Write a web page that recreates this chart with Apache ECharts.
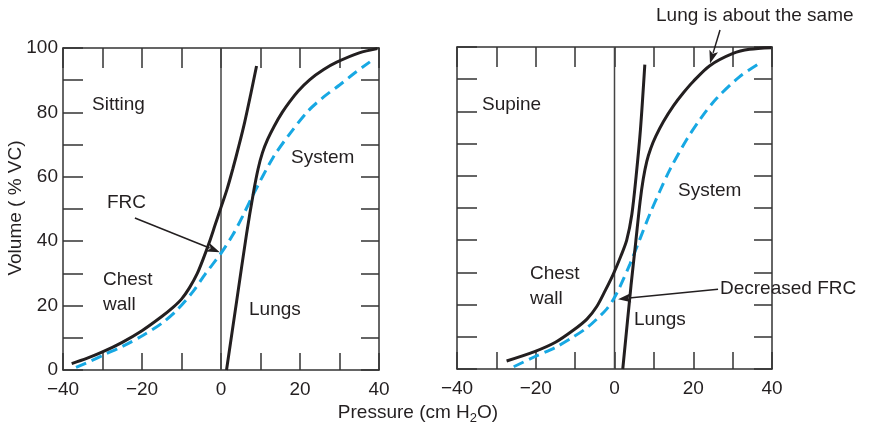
<!DOCTYPE html>
<html><head><meta charset="utf-8">
<script src="https://cdn.jsdelivr.net/npm/echarts@6/dist/echarts.min.js"></script>
<style>html,body{margin:0;padding:0;background:#fff}#c{width:873px;height:426px}</style>
</head><body><div id="c"></div>
<script>
// ---- data (pressure cm H2O, volume % VC) ----
const xLabelTicks = [-40, -20, 0, 20, 40];
const yLabelTicks = [0, 20, 40, 60, 80, 100];
const zeroLine = [[0, 0], [0, 100]];

const sittingChestWall = [[-37.8,2.0],[-34,3.6],[-30,5.6],[-25,8.6],[-20,12.2],[-15,16.6],[-12,19.6],[-10,22],[-8,25.5],[-6,30],[-4.5,34.5],[-3,39.5],[-1.5,45],[0,50.5],[1.5,56],[3,62.5],[4.5,69.5],[6,77],[7.5,85.5],[9,94.4]];
const sittingLungs = [[1.4,0],[4,21.7],[6.5,42.5],[8.2,55],[9.4,62.5],[10.5,67.5],[11.8,71.6],[13.5,75.8],[15.5,80],[17.5,83.5],[19.5,86.6],[22.5,90.2],[26,93.3],[29.3,95.6],[35,98.5],[39.6,99.8]];
const sittingSystem = [[-36.7,0.8],[-33,2.8],[-29.5,4.8],[-25,7.3],[-19.7,10.8],[-15,14.5],[-11,18.8],[-7,24.5],[-4,29.8],[-1.5,33.8],[0.2,36.6],[3,42],[5.5,47.8],[8.2,54.6],[13.2,66],[17.5,73.5],[22.1,80.5],[26,84.8],[30.1,88.6],[34,92.4],[37.7,95.7]];

const supineChestWall = [[-27.4,2.5],[-20.3,5.4],[-15,8.3],[-10.4,12.1],[-7,15.5],[-4.5,19.4],[-2.3,24.5],[-0.3,29.5],[1.6,35],[3.1,40],[4.4,48],[5.5,60],[6.6,74.5],[7.7,94.5]];
const supineLungs = [[2.1,0],[4.2,26],[5.4,39.5],[6.5,52],[7.3,59],[8.2,64.5],[9.2,68.5],[10.5,72.3],[12.4,76.8],[15,81.8],[17.5,85.8],[20,89.3],[24.2,94.2],[30.1,98],[34.3,99.3],[39.8,99.8]];
const supineSystem = [[-25.6,0.7],[-20.3,3.8],[-15,6.7],[-10.4,10],[-7,12.8],[-4.5,15.5],[-2,18.6],[-0.3,21.6],[1.4,25.6],[3.9,32.5],[6.5,40.5],[9,48.2],[11.5,55.2],[14.1,62],[18.3,71.2],[22,78],[25.9,84],[31.8,90.8],[36.9,95]];

// annotation arrows: [grid, from, to] in data coords
const arrowFRC = [0, [-21.8, 47.2], [-0.3, 36.6]];
const arrowDecFRC = [1, [26.3, 24.8], [0.9, 21.7]];
const arrowSame = [1, [26.8, 105.3], [24.25, 94.9]];

// ---- styling ----
const INK = '#231f20';
const BLUE = '#17a8e3';
const FONT = 'Liberation Sans';
const FS = 19;

const chart = echarts.init(document.getElementById('c'), null, {renderer: 'canvas'});

function fmtNum(v) { return v < 0 ? '\u2212' + (-v) : String(v); }

function xAxisPair(gi) {
  return [
    { gridIndex: gi, type: 'value', position: 'bottom', min: -40, max: 40, interval: 10,
      axisLine: {show: true, onZero: false, lineStyle: {color: '#333', width: 1.5}},
      axisTick: {show: true, inside: true, length: 17, lineStyle: {color: '#333', width: 1.5}},
      axisLabel: {show: true, margin: 10, color: INK, fontFamily: FONT, fontSize: FS,
        formatter: v => xLabelTicks.includes(v) ? fmtNum(v) : ''},
      splitLine: {show: false} },
    { gridIndex: gi, type: 'value', position: 'top', min: -40, max: 40, interval: 10,
      axisLine: {show: true, onZero: false, lineStyle: {color: '#333', width: 1.5}},
      axisTick: {show: true, inside: true, length: 20, lineStyle: {color: '#333', width: 1.5}},
      axisLabel: {show: false}, splitLine: {show: false} }
  ];
}
function yAxisPair(gi, labels) {
  return [
    { gridIndex: gi, type: 'value', position: 'left', min: 0, max: 100, interval: 10,
      axisLine: {show: true, onZero: false, lineStyle: {color: '#333', width: 1.5}},
      axisTick: {show: true, inside: true, length: 20, lineStyle: {color: '#333', width: 1.5}},
      axisLabel: {show: labels, margin: 5, color: INK, fontFamily: FONT, fontSize: FS,
        formatter: v => yLabelTicks.includes(v) ? String(v) : ''},
      splitLine: {show: false} },
    { gridIndex: gi, type: 'value', position: 'right', min: 0, max: 100, interval: 10,
      axisLine: {show: true, onZero: false, lineStyle: {color: '#333', width: 1.5}},
      axisTick: {show: true, inside: true, length: 18, lineStyle: {color: '#333', width: 1.5}},
      axisLabel: {show: false}, splitLine: {show: false} }
  ];
}

function curve(data, xi, yi, dashed) {
  return { type: 'line', xAxisIndex: xi, yAxisIndex: yi, data: data, showSymbol: false, symbol: 'none',
    smooth: 0.3, silent: true, animation: false, clip: false,
    lineStyle: dashed ? {color: BLUE, width: 3, type: [11, 6]} : {color: INK, width: 3} };
}
function vline(xi, yi) {
  return { type: 'line', xAxisIndex: xi, yAxisIndex: yi, data: zeroLine, symbol: 'none', silent: true,
    animation: false, lineStyle: {color: '#444', width: 1.5}, z: 1 };
}

chart.setOption({
  animation: false,
  grid: [
    {left: 63, top: 48, width: 316, height: 322, outerBoundsMode: 'none', containLabel: false},
    {left: 457, top: 47, width: 315, height: 322, outerBoundsMode: 'none', containLabel: false}
  ],
  xAxis: [...xAxisPair(0), ...xAxisPair(1)],
  yAxis: [...yAxisPair(0, true), ...yAxisPair(1, false)],
  series: [
    vline(0, 0),
    curve(sittingSystem, 0, 0, true),
    curve(sittingChestWall, 0, 0, false),
    curve(sittingLungs, 0, 0, false),
    vline(2, 2),
    curve(supineSystem, 2, 2, true),
    curve(supineChestWall, 2, 2, false),
    curve(supineLungs, 2, 2, false)
  ]
});

function px(gi, p) { return chart.convertToPixel({gridIndex: gi}, p); }
function arrow(a) {
  const s = px(a[0], a[1]), e = px(a[0], a[2]);
  const dx = e[0] - s[0], dy = e[1] - s[1], L = Math.hypot(dx, dy);
  const ux = dx / L, uy = dy / L, hl = 13, hw = 4.5;
  const bx = e[0] - ux * hl, by = e[1] - uy * hl;
  return [
    {type: 'line', silent: true, z: 100, shape: {x1: s[0], y1: s[1], x2: bx + ux * 2, y2: by + uy * 2},
      style: {stroke: INK, lineWidth: 1.5}},
    {type: 'polygon', silent: true, z: 100, shape: {points: [[e[0], e[1]], [bx - uy * hw, by + ux * hw], [bx + ux * 3, by + uy * 3], [bx + uy * hw, by - ux * hw]]},
      style: {fill: INK}}
  ];
}
function label(text, x, y) {
  return {type: 'text', x: x, y: y, silent: true, z: 100,
    style: {text: text, fill: INK, fontFamily: FONT, fontSize: FS, align: 'left', verticalAlign: 'middle'}};
}

chart.setOption({
  graphic: [
    ...arrow(arrowFRC), ...arrow(arrowDecFRC), ...arrow(arrowSame),
    label('Sitting', 92, 105),
    label('System', 291, 158),
    label('FRC', 107, 203),
    label('Chest', 103, 280),
    label('wall', 103, 305),
    label('Lungs', 249, 310),
    label('Supine', 482, 105),
    label('System', 678, 191),
    label('Chest', 530, 274),
    label('wall', 530, 299),
    label('Lungs', 634, 320),
    label('Decreased FRC', 720, 289),
    label('Lung is about the same', 656, 16),
    {type: 'text', x: 16, y: 208, rotation: Math.PI / 2, silent: true,
      style: {text: 'Volume ( % VC)', fill: INK, fontFamily: FONT, fontSize: FS, align: 'center', verticalAlign: 'middle'}},
    {type: 'text', x: 418, y: 413, silent: true,
      style: {text: 'Pressure (cm H{sub|2}O)', fill: INK, fontFamily: FONT, fontSize: FS, align: 'center', verticalAlign: 'middle', lineHeight: 24,
        rich: {sub: {fontFamily: FONT, fontSize: 13, fill: INK, lineHeight: 13, verticalAlign: 'bottom'}}}}
  ]
});
</script>
</body></html>
